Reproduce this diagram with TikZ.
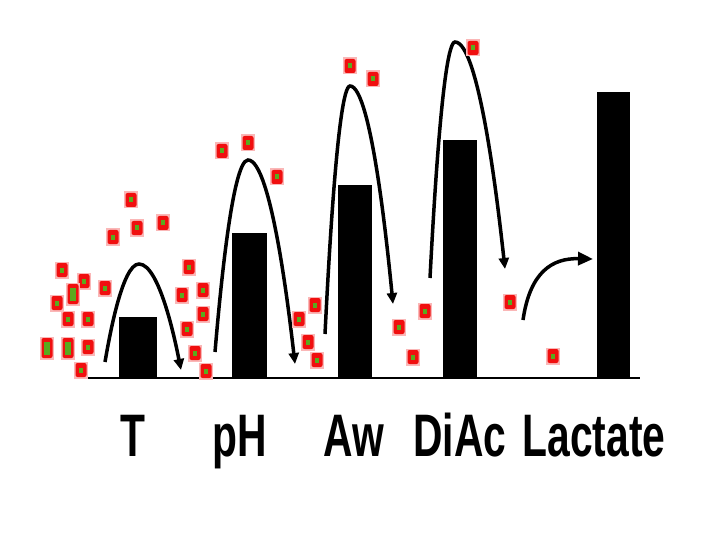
\documentclass[tikz,border=0pt]{standalone}
\usepackage{fontspec}
\setmainfont{Liberation Sans}
\usetikzlibrary{arrows.meta}
\definecolor{cellred}{RGB}{240,15,15}
\definecolor{cellgreen}{RGB}{90,170,30}
\tikzset{
  hump/.style={line width=3.5pt, -{Triangle[length=11pt,width=10pt]}},
  bigarrow/.style={line width=3.5pt, -{Triangle[length=15pt,width=13pt]}},
  barfill/.style={fill=black},
  lab/.style={font=\fontsize{60}{60}\selectfont\bfseries, anchor=base, inner sep=0pt},
  cell/.pic={
    \fill[cellred!30] (-7,-8.5) rectangle (7,8.5);
    \fill[cellred, rounded corners=2pt] (-5.5,-7) rectangle (5.5,7);
    \fill[cellgreen] (-2.2,-2.5) rectangle (2.2,2.5);
  },
  tallcell/.pic={
    \fill[cellred!30] (-7,-11.5) rectangle (7,11.5);
    \fill[cellred, rounded corners=2pt] (-5.5,-10) rectangle (5.5,10);
    \fill[cellgreen] (-2.8,-6.5) rectangle (2.8,6.5);
  }
}
\begin{document}
\begin{tikzpicture}[x=1pt,y=-1pt]
\useasboundingbox (0,0) rectangle (720,540);
% baseline
\draw[line width=2pt] (88,378) -- (640,378);
% bars
\fill[barfill] (119,317) rectangle (157,378);
\fill[barfill] (232,233) rectangle (267,378);
\fill[barfill] (338,185) rectangle (372,378);
\fill[barfill] (443,140) rectangle (477,378);
\fill[barfill] (597,92) rectangle (630,378);
% humps
\draw[hump] (105,362) parabola bend (139,264) (181,370);
\draw[hump] (215,352) parabola bend (248,160) (295,364);
\draw[hump] (325,334) parabola bend (350,86) (393,304);
\draw[hump] (430,278) parabola bend (455,42) (505,269);
\draw[bigarrow] (523,320) .. controls (530,272) and (552,258) .. (593,259);
% cells
\foreach \p in {(62,270),(84,281),(105,288),(57,303),(68,319),(88,319),(88,347),(81,370),
  (131,200),(137,228),(163,223),(113,237),(189,267),(182,295),(203,290),(203,314),(187,329),(195,353),(206,371),
  (222,151),(248,143),(277,177),
  (315,305),(299,319),(308,342),(317,360),
  (350,66),(373,79),
  (425,311),(399,327),(413,357),
  (510,302),(553,356),
  (473,48)}
  \pic at \p {cell};
\foreach \p in {(73,294),(47,348),(68,348)}
  \pic at \p {tallcell};
% labels
\node[lab] (lT) at (133,456) {\scalebox{0.68}[1]{T}};
\node[lab] (lpH) at (240,456) {\scalebox{0.68}[1]{pH}};
\node[lab] (lAw) at (354,456) {\scalebox{0.68}[1]{Aw}};
\node[lab] (lDiAc) at (460,456) {\scalebox{0.68}[1]{DiAc}};
\node[lab] (lLac) at (594,456) {\scalebox{0.68}[1]{Lactate}};
\end{tikzpicture}
\end{document}
